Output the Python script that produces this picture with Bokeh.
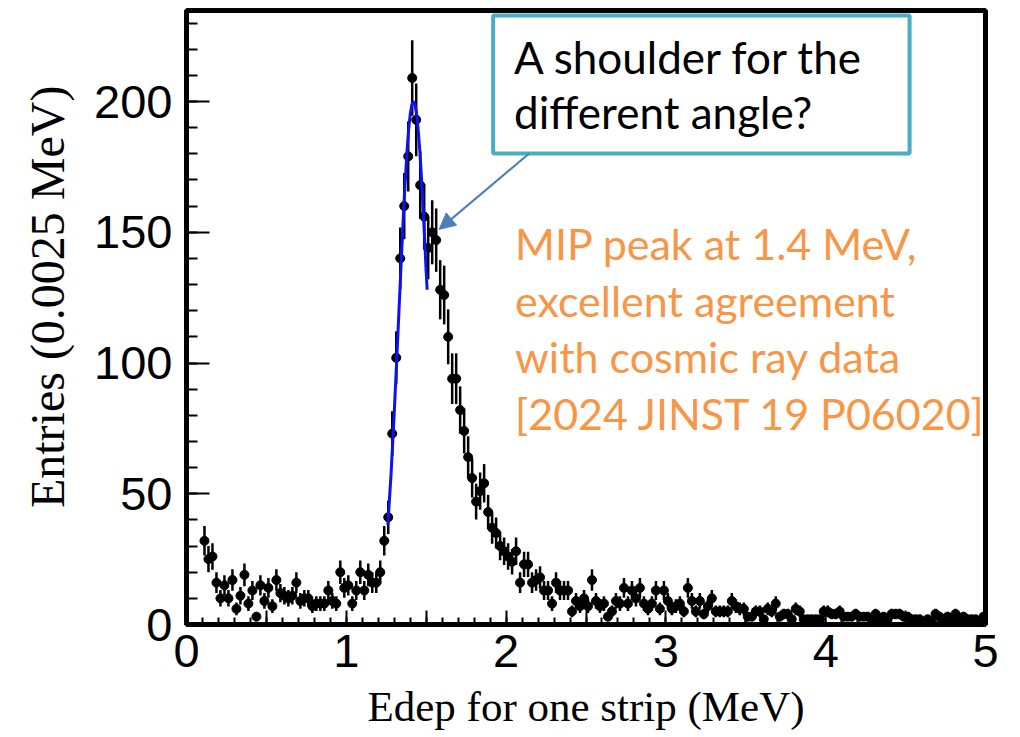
import math
from bokeh.plotting import figure
from bokeh.models import (FixedTicker, Label, BoxAnnotation, Arrow, NormalHead,
                          ColumnDataSource, Range1d, Title)
from bokeh.embed import file_html
from bokeh.resources import INLINE

# ---------------- data ----------------
BIN_START = 0.1      # lower edge of first filled bin (MeV)
BIN_WIDTH = 0.025    # MeV
counts = [
    32, 25, 26, 16, 10, 15, 10, 17, 6, 11, 19, 8, 13, 3, 15, 9, 14, 7, 17, 12,
    11, 10, 11, 16, 9, 10, 10, 7, 8, 8, 8, 13, 9, 8, 20, 14, 15, 8, 13, 20,
    13, 19, 16, 16, 20, 32, 41, 73, 102, 140, 160, 179, 209, 193, 168, 156, 144, 150, 147, 128,
    126, 110, 94, 94, 82, 74, 64, 56, 47, 51, 54, 43, 37, 35, 30, 28, 26, 24, 28, 16,
    23, 23, 16, 17, 18, 13, 13, 8, 16, 13, 13, 13, 5, 9, 7, 10, 7, 17, 9, 7,
    8, 3, 5, 9, 8, 14, 8, 13, 10, 14, 8, 6, 8, 13, 6, 13, 9, 6, 7, 8,
    5, 14, 9, 5, 9, 4, 7, 10, 5, 5, 5, 5, 9, 7, 6, 6, 3, 3, 5, 5,
    2, 6, 5, 8, 3, 4, 4, 2, 6, 5, 2, 2, 2, 2, 2, 5, 5, 4, 4, 5,
    3, 3, 3, 4, 3, 3, 3, 2, 4, 2, 3, 2, 4, 4, 4, 3, 3, 2, 2, 2,
    1, 2, 1, 4, 3, 2, 3, 2, 4, 2, 3, 2, 2, 2, 1, 3,
]
fit_x = [1.26, 1.28, 1.30, 1.32, 1.34, 1.36, 1.38, 1.39, 1.40, 1.41, 1.42,
         1.43, 1.44, 1.45, 1.46, 1.47, 1.48, 1.49, 1.50, 1.506]
fit_y = [38.0, 57.5, 81.0, 107.0, 134.0, 160.1, 181.2, 189.2, 195.1, 198.8, 200.0,
         198.8, 195.1, 189.2, 181.2, 171.4, 160.1, 147.8, 134.7, 128.0]

x_major = [0, 0.5, 1, 1.5, 2, 2.5, 3, 3.5, 4, 4.5, 5]
x_labels = {0: "0", 0.5: "", 1: "1", 1.5: "", 2: "2", 2.5: "", 3: "3", 3.5: "",
            4: "4", 4.5: "", 5: "5"}
y_major = [0, 50, 100, 150, 200]

X_TITLE = "Edep for one strip (MeV)"
Y_TITLE = "Entries (0.0025 MeV)"
BOX_LINES = ["A shoulder for the", "different angle?"]
NOTE_LINES = ["MIP peak at 1.4 MeV,", "excellent agreement",
              "with cosmic ray data", "[2024 JINST 19 P06020]"]

# ---------------- derived ----------------
centers = [BIN_START + BIN_WIDTH * (i + 0.5) for i in range(len(counts))]
errs = [math.sqrt(c) for c in counts]
src = ColumnDataSource(dict(
    x=centers, y=counts,
    lo=[c - e for c, e in zip(counts, errs)],
    hi=[c + e for c, e in zip(counts, errs)],
    xl=[x - BIN_WIDTH / 2 for x in centers],
    xr=[x + BIN_WIDTH / 2 for x in centers],
))

Y_MAX = 234.8
p = figure(width=1020, height=737, x_range=Range1d(0, 5), y_range=Range1d(0, Y_MAX),
           output_backend="svg", toolbar_location=None,
           min_border_left=185, min_border_right=35, min_border_top=10, min_border_bottom=113)
p.background_fill_color = "white"
p.border_fill_color = "white"
p.grid.visible = False
p.outline_line_color = "black"
p.outline_line_width = 5

# axes
for ax in (p.xaxis[0], p.yaxis[0]):
    ax.axis_line_width = 4
    ax.axis_line_color = "black"
    ax.major_tick_out = 0
    ax.minor_tick_out = 0
    ax.major_tick_line_width = 2
    ax.minor_tick_line_width = 2
    ax.major_label_text_font = "Liberation Sans"
    ax.major_label_text_font_size = "47px"
    ax.major_label_text_color = "black"

p.xaxis.ticker = FixedTicker(ticks=x_major, minor_ticks=[i / 10 for i in range(51)])
p.xaxis.major_label_overrides = x_labels
p.xaxis.major_tick_in = 14
p.xaxis.minor_tick_in = 7
p.xaxis.major_label_standoff = 10
p.xaxis.axis_label = X_TITLE
p.xaxis.axis_label_text_font = "Liberation Serif"
p.xaxis.axis_label_text_font_style = "normal"
p.xaxis.axis_label_text_font_size = "43px"
p.xaxis.axis_label_text_color = "black"
p.xaxis.axis_label_standoff = 13

p.yaxis.ticker = FixedTicker(ticks=y_major, minor_ticks=list(range(0, 240, 10)))
p.yaxis.major_tick_in = 23
p.yaxis.minor_tick_in = 11
p.yaxis.major_label_standoff = 14

p.add_layout(Title(text=Y_TITLE, align="right", offset=75, standoff=36,
                   text_font="Liberation Serif", text_font_size="48px",
                   text_font_style="normal", text_color="black"), "left")

# data
p.segment(x0="x", y0="lo", x1="x", y1="hi", source=src, line_color="black", line_width=2.5)
p.segment(x0="xl", y0="y", x1="xr", y1="y", source=src, line_color="black", line_width=2.5)
p.scatter("x", "y", source=src, marker="circle", size=9, fill_color="black", line_color="black")
p.line(fit_x, fit_y, line_color="#1010F5", line_width=3)

# annotations
p.add_layout(BoxAnnotation(left=1.919, right=4.525, bottom=180.1, top=232.9,
                           fill_color="white", fill_alpha=1.0,
                           line_color="#4BACC6", line_alpha=1.0, line_width=4))
for i, t in enumerate(BOX_LINES):
    p.add_layout(Label(x=2.05, y=217.2 - i * 21.4, text=t, text_baseline="alphabetic",
                       text_font="Lato", text_font_size="44px", text_color="black"))
for i, t in enumerate(NOTE_LINES):
    p.add_layout(Label(x=2.056, y=145.7 - i * 21.7, text=t, text_baseline="alphabetic",
                       text_font="Lato", text_font_size="43px", text_color="#F79646"))

ac = "#4A7EBB"
p.add_layout(Arrow(end=NormalHead(size=16, fill_color=ac, line_color=ac),
                   x_start=2.144, y_start=180.1, x_end=1.581, y_end=151.1,
                   line_color=ac, line_width=2))

open("out.html", "w").write(file_html(p, INLINE))
